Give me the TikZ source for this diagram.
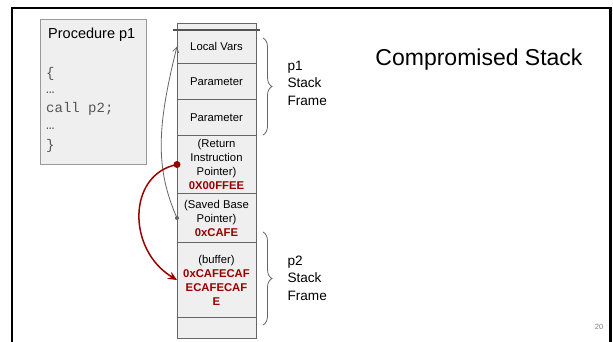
\documentclass[tikz,border=0pt]{standalone}
\usepackage{fontspec}
\setmainfont{Liberation Sans}
\setmonofont{Liberation Mono}
\usetikzlibrary{arrows.meta,positioning,decorations.pathreplacing}
\definecolor{cellgray}{HTML}{EFEFEF}
\definecolor{edgegray}{HTML}{666666}
\definecolor{darkred}{HTML}{990000}
\definecolor{codegray}{HTML}{555555}
\newcommand{\hexval}[1]{\textcolor{darkred}{\bfseries #1}}

\begin{document}
\begin{tikzpicture}[x=1pt,y=-1pt,
    cell/.style={draw=edgegray,line width=1pt,fill=cellgray,minimum width=79pt,inner sep=0pt,outer sep=0pt,
      align=center,font=\fontsize{11.3}{14}\selectfont},
    brace/.style={draw=edgegray,line width=0.8pt,decorate,decoration={brace,amplitude=9pt}},
    side/.style={align=left,anchor=west,font=\fontsize{13.6}{17.5}\selectfont}]
  \useasboundingbox (0,0) rectangle (613,341);
  \draw[line width=2.5pt] (12,350) |- (610.3,8) -- (610.3,350);

  % procedure p1
  \node[draw=gray!80,fill=cellgray,minimum width=106pt,minimum height=145pt,inner sep=0pt] (proc) at (93,91.5) {};
  \node[font=\fontsize{14.5}{17}\selectfont,anchor=west,inner sep=0pt] (ptitle) at (48,35) {Procedure p1};
  \foreach \txt/\yy [count=\i] in {\{/77,…/93,call p2;/112,…/129,\}/149}
    \node[anchor=base west,inner sep=0pt,text=codegray,font=\ttfamily\fontsize{14}{17}\selectfont] (code\i) at (46,\yy) {\txt};

  % the stack
  \node[cell,minimum height=6pt] (cap) at (216.5,26.5) {};
  \node[cell,minimum height=34pt,below=0pt of cap] (lv) {Local Vars};
  \node[cell,minimum height=36pt,below=0pt of lv] (par1) {Parameter};
  \node[cell,minimum height=36pt,below=0pt of par1] (par2) {Parameter};
  \node[cell,minimum height=58pt,below=0pt of par2] (ret) {(Return\\Instruction\\Pointer)\\\hexval{0X00FFEE}};
  \node[cell,minimum height=49pt,below=0pt of ret] (sbp) {(Saved Base\\Pointer)\\\hexval{0xCAFE}};
  \node[cell,minimum height=75pt,below=0pt of sbp] (buf) {(buffer)\\\hexval{0xCAFECAF}\\\hexval{ECAFECAF}\\\hexval{E}};
  \node[cell,minimum height=21pt,below=0pt of buf] (bot) {};
  \draw[line width=2pt,edgegray!80!black] ([xshift=-4pt]cap.south west) -- ([xshift=4pt]cap.south east);

  % frames
  \coordinate (b1top) at (263,38);
  \coordinate (b1bot) at (263,135);
  \coordinate (b2top) at (263,232);
  \coordinate (b2bot) at (263,325);
  \draw[brace] (b1top) -- (b1bot);
  \draw[brace] (b2top) -- (b2bot);
  \node[side] (p1lbl) at (284,83) {p1\\Stack\\Frame};
  \node[side] (p2lbl) at (284,278) {p2\\Stack\\Frame};

  \node[font=\fontsize{23}{28}\selectfont] (title) at (479,60) {Compromised Stack};
  \node[font=\fontsize{7.5}{9}\selectfont,text=gray] (pnum) at (599,327) {20};

  % pointers
  \fill[edgegray] (sbp.west) circle (2pt);
  \draw[edgegray,line width=0.8pt,-{Straight Barb[length=5pt,width=6pt]}]
    (sbp.west) .. controls +(-22,-50) and +(-20,80) .. (lv.west);
  \fill[darkred] (ret.west) circle (3.5pt);
  \draw[darkred,line width=1.5pt,-{Stealth[length=9pt,width=8pt,inset=3pt]}]
    (ret.west) .. controls +(-50,10) and +(-50,-30) .. (buf.west);
\end{tikzpicture}
\end{document}
